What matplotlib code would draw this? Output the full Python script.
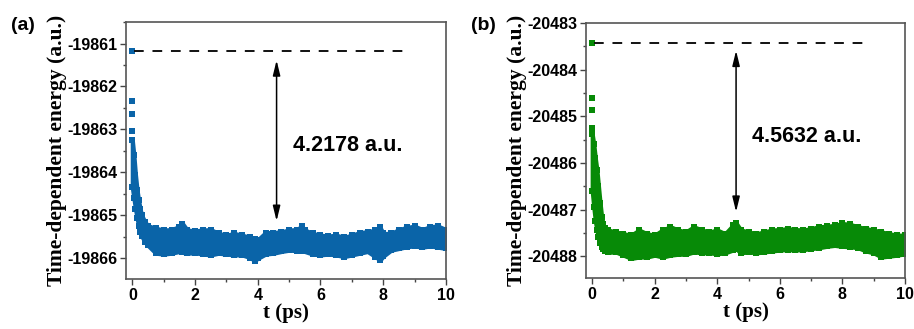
import matplotlib

matplotlib.use('Agg')
import matplotlib.pyplot as plt
from matplotlib.ticker import MultipleLocator

# ---- panel (a) data ----
a_head_t = [0.0, 0.0, 0.0, 0.0]
a_head_e = [-19861.17, -19862.33, -19862.64, -19863.03]

a_t = [0.0, 0.05, 0.1, 0.15, 0.2, 0.25, 0.3, 0.4, 0.5, 0.75, 1.0, 1.25, 1.5, 1.6, 1.75,
       2.0, 2.25, 2.5, 2.75, 3.0, 3.25, 3.5, 3.75, 3.9, 4.0, 4.25, 4.5, 4.75, 5.0, 5.25,
       5.4, 5.5, 5.75, 6.0, 6.25, 6.5, 6.75, 7.0, 7.25, 7.5, 7.75, 7.9, 8.0, 8.25, 8.5,
       8.75, 9.0, 9.25, 9.5, 9.75, 10.0]
a_upper = [-19863.25, -19863.60, -19864.05, -19864.40, -19864.65, -19864.85, -19865.00,
           -19865.15, -19865.24, -19865.30, -19865.34, -19865.33, -19865.26, -19865.19,
           -19865.34, -19865.36, -19865.34, -19865.33, -19865.42, -19865.46, -19865.42,
           -19865.46, -19865.51, -19865.55, -19865.57, -19865.40, -19865.40, -19865.38,
           -19865.34, -19865.33, -19865.25, -19865.34, -19865.42, -19865.46, -19865.48,
           -19865.46, -19865.51, -19865.46, -19865.40, -19865.38, -19865.34, -19865.28,
           -19865.42, -19865.42, -19865.33, -19865.28, -19865.25, -19865.33, -19865.26,
           -19865.25, -19865.33]
a_lower = [-19864.35, -19864.60, -19864.85, -19865.05, -19865.25, -19865.38, -19865.48,
           -19865.62, -19865.70, -19865.88, -19865.90, -19865.88, -19865.84, -19865.86,
           -19865.88, -19865.87, -19865.90, -19865.92, -19865.88, -19865.90, -19865.92,
           -19865.92, -19865.98, -19866.05, -19866.00, -19865.90, -19865.88, -19865.84,
           -19865.81, -19865.82, -19865.83, -19865.84, -19865.90, -19865.92, -19865.90,
           -19865.92, -19865.96, -19865.92, -19865.88, -19865.84, -19865.96, -19866.04,
           -19865.95, -19865.81, -19865.77, -19865.73, -19865.71, -19865.74, -19865.71,
           -19865.74, -19865.77]

# ---- panel (b) data ----
b_head_t = [0.0, 0.0, 0.0, 0.0]
b_head_e = [-20483.42, -20484.61, -20484.86, -20485.26]

b_t = [0.0, 0.05, 0.1, 0.15, 0.2, 0.25, 0.3, 0.35, 0.4, 0.5, 0.75, 1.0, 1.25, 1.5, 1.75,
       2.0, 2.25, 2.5, 2.75, 3.0, 3.25, 3.5, 3.75, 4.0, 4.25, 4.5, 4.6, 4.75, 5.0, 5.25,
       5.5, 5.75, 6.0, 6.25, 6.5, 6.75, 7.0, 7.25, 7.5, 7.75, 8.0, 8.25, 8.5, 8.75, 9.0,
       9.25, 9.5, 9.75, 10.0]
b_upper = [-20485.38, -20485.60, -20485.90, -20486.15, -20486.50, -20486.85, -20487.15,
           -20487.32, -20487.40, -20487.44, -20487.48, -20487.52, -20487.55, -20487.44,
           -20487.52, -20487.55, -20487.44, -20487.37, -20487.44, -20487.48, -20487.37,
           -20487.44, -20487.48, -20487.44, -20487.52, -20487.34, -20487.29, -20487.44,
           -20487.48, -20487.52, -20487.48, -20487.44, -20487.43, -20487.41, -20487.43,
           -20487.44, -20487.41, -20487.37, -20487.36, -20487.34, -20487.30, -20487.32,
           -20487.37, -20487.41, -20487.44, -20487.48, -20487.52, -20487.55, -20487.55]
b_lower = [-20486.60, -20486.95, -20487.25, -20487.45, -20487.60, -20487.72, -20487.80,
           -20487.85, -20487.88, -20487.92, -20487.91, -20487.98, -20488.05, -20488.02,
           -20488.02, -20487.98, -20488.02, -20487.98, -20487.96, -20487.96, -20487.91,
           -20487.93, -20487.93, -20487.95, -20487.93, -20487.87, -20487.84, -20487.93,
           -20487.91, -20487.93, -20487.91, -20487.89, -20487.87, -20487.86, -20487.87,
           -20487.86, -20487.84, -20487.82, -20487.79, -20487.77, -20487.79, -20487.80,
           -20487.82, -20487.89, -20487.93, -20488.02, -20488.00, -20487.98, -20487.95]

plt.rcParams['font.family'] = ['Liberation Sans', 'DejaVu Sans']
plt.rcParams['axes.formatter.useoffset'] = False
plt.rcParams['axes.unicode_minus'] = False

fig = plt.figure(figsize=(9.14, 3.29), dpi=100)
ax_a = fig.add_axes([0.1379, 0.152, 0.350, 0.781])
ax_b = fig.add_axes([0.6411, 0.155, 0.349, 0.776])


def draw_panel(ax, head_t, head_e, t, upper, lower, color, ylim, yticks,
               e_dash, arrow_top, arrow_bot, text, text_y, letter, letter_x):
    ax.fill_between(t, lower, upper, color=color, linewidth=3, edgecolor=color)
    ax.plot(t, upper, 's', color=color, ms=4.5, mew=0)
    ax.plot(t, lower, 's', color=color, ms=4.5, mew=0)
    ax.plot(head_t, head_e, 's', color=color, ms=4.5, mew=0)

    # dashed reference line and double arrow
    ax.plot([0.05, 8.7], [e_dash, e_dash], color='#111111', lw=1.4, dashes=(5, 4.5))
    ax.annotate('', xy=(4.6, arrow_bot), xytext=(4.6, arrow_top),
                arrowprops=dict(arrowstyle='<|-|>,head_length=0.9,head_width=0.22',
                                color='black', lw=1.1, shrinkA=0, shrinkB=0))
    ax.text(5.12, text_y, text, fontsize=15.5, fontweight='bold', va='center', ha='left')

    ax.set_xlim(-0.2, 10)
    ax.set_ylim(*ylim)
    ax.set_xticks([0, 2, 4, 6, 8, 10])
    ax.set_yticks(yticks)
    ax.xaxis.set_minor_locator(MultipleLocator(1))
    ax.yaxis.set_minor_locator(MultipleLocator(0.5))
    ax.tick_params(which='both', direction='out', top=False, right=False,
                   color='#444444', width=1.0, labelsize=11.5)
    ax.tick_params(which='major', length=4, pad=2.5)
    ax.tick_params(which='minor', length=2.5)
    for lab in ax.get_xticklabels() + ax.get_yticklabels():
        lab.set_fontweight('bold')
    for sp in ax.spines.values():
        sp.set_color('#555555')
        sp.set_linewidth(1.2)

    ax.set_xlabel('t (ps)', family='Liberation Serif', fontweight='bold', fontsize=15,
                  labelpad=0)
    ax.set_ylabel('Time-dependent energy (a.u.)', family='Liberation Serif',
                  fontweight='bold', fontsize=15.5, labelpad=0)
    fig.text(letter_x, 0.922, letter, fontsize=14, fontweight='bold', ha='left', va='center')


draw_panel(ax_a, a_head_t, a_head_e, a_t, a_upper, a_lower, '#0a64a8',
           (-19866.48, -19860.5), [-19866, -19865, -19864, -19863, -19862, -19861],
           -19861.17, -19861.39, -19865.13, '4.2178 a.u.', -19863.38, '(a)', 0.012)
draw_panel(ax_b, b_head_t, b_head_e, b_t, b_upper, b_lower, '#078a07',
           (-20488.47, -20482.99), [-20488, -20487, -20486, -20485, -20484, -20483],
           -20483.42, -20483.59, -20487.05, '4.5632 a.u.', -20485.44, '(b)', 0.515)

fig.savefig('out.png', dpi=100)
